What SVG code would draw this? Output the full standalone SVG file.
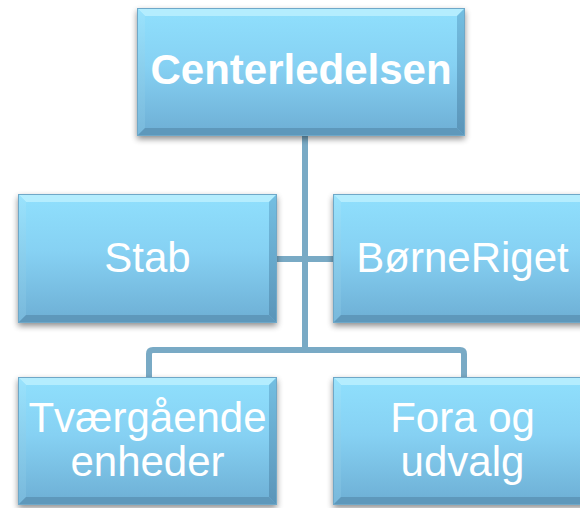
<svg xmlns="http://www.w3.org/2000/svg" width="580" height="508" viewBox="0 0 580 508">
  <defs>
    <linearGradient id="face" x1="0" y1="0" x2="0" y2="1">
      <stop offset="0" stop-color="#90E0FD"/>
      <stop offset="0.45" stop-color="#86D1F3"/>
      <stop offset="1" stop-color="#6DAED4"/>
    </linearGradient>
    <linearGradient id="bevL" x1="0" y1="0" x2="0" y2="1">
      <stop offset="0" stop-color="#9AE3FD"/>
      <stop offset="1" stop-color="#78B8DB"/>
    </linearGradient>
    <linearGradient id="bevR" x1="0" y1="0" x2="0" y2="1">
      <stop offset="0" stop-color="#74BFE2"/>
      <stop offset="1" stop-color="#5A94B8"/>
    </linearGradient>
    <filter id="shadow" x="-10%" y="-10%" width="120%" height="130%">
      <feGaussianBlur in="SourceAlpha" stdDeviation="3"/>
      <feOffset dx="0" dy="3" result="b"/>
      <feComponentTransfer><feFuncA type="linear" slope="0.45"/></feComponentTransfer>
    </filter>
  </defs>
  <style>
    .sh { fill: #000; filter: url(#shadow); }
    .face { fill: url(#face); }
    .bt { fill: #B4EDFE; }
    .bl { fill: url(#bevL); }
    .br { fill: url(#bevR); }
    .bb { fill: #5E98BB; }
    .edge { fill: none; stroke: #6FA8C8; stroke-width: 1; }
    .conn { fill: none; stroke: #79AAC5; stroke-width: 6; }
    .t { fill: #FFFFFF; font-family: "Liberation Sans", Arial, sans-serif; font-size: 42px; text-anchor: middle; }
    .tb { font-weight: bold; }
  </style>

  <g id="connectors">
    <path class="conn" d="M305,135 V350"/>
    <path class="conn" d="M277,259 H333"/>
    <path class="conn" d="M149,377 V354 Q149,350 153,350 H460 Q464,350 464,354 V377"/>
  </g>

  <g id="node-centerledelsen">
    <rect class="sh" x="137" y="8" width="328" height="128"/>
    <rect class="face" x="137" y="8" width="328" height="128"/>
    <polygon class="bt" points="137,8 465,8 457,16 145,16"/>
    <polygon class="bl" points="137,8 145,16 145,128 137,136"/>
    <polygon class="br" points="465,8 465,136 457,128 457,16"/>
    <polygon class="bb" points="137,136 145,128 457,128 465,136"/>
    <rect class="edge" x="137.5" y="8.5" width="327" height="127"/>
    <text class="t tb" x="301" y="84">Centerledelsen</text>
  </g>

  <g id="node-stab">
    <rect class="sh" x="18" y="194" width="259" height="129"/>
    <rect class="face" x="18" y="194" width="259" height="129"/>
    <polygon class="bt" points="18,194 277,194 269,202 26,202"/>
    <polygon class="bl" points="18,194 26,202 26,315 18,323"/>
    <polygon class="br" points="277,194 277,323 269,315 269,202"/>
    <polygon class="bb" points="18,323 26,315 269,315 277,323"/>
    <rect class="edge" x="18.5" y="194.5" width="258" height="128"/>
    <text class="t" x="147.5" y="272">Stab</text>
  </g>

  <g id="node-borneriget">
    <rect class="sh" x="333" y="194" width="259" height="129"/>
    <rect class="face" x="333" y="194" width="259" height="129"/>
    <polygon class="bt" points="333,194 592,194 584,202 341,202"/>
    <polygon class="bl" points="333,194 341,202 341,315 333,323"/>
    <polygon class="br" points="592,194 592,323 584,315 584,202"/>
    <polygon class="bb" points="333,323 341,315 584,315 592,323"/>
    <rect class="edge" x="333.5" y="194.5" width="258" height="128"/>
    <text class="t" x="462.5" y="272">BørneRiget</text>
  </g>

  <g id="node-tvaergaaende">
    <rect class="sh" x="18" y="377" width="259" height="128"/>
    <rect class="face" x="18" y="377" width="259" height="128"/>
    <polygon class="bt" points="18,377 277,377 269,385 26,385"/>
    <polygon class="bl" points="18,377 26,385 26,497 18,505"/>
    <polygon class="br" points="277,377 277,505 269,497 269,385"/>
    <polygon class="bb" points="18,505 26,497 269,497 277,505"/>
    <rect class="edge" x="18.5" y="377.5" width="258" height="127"/>
    <text class="t" x="147.5" y="432">Tværgående</text>
    <text class="t" x="147.5" y="476">enheder</text>
  </g>

  <g id="node-fora">
    <rect class="sh" x="333" y="377" width="259" height="128"/>
    <rect class="face" x="333" y="377" width="259" height="128"/>
    <polygon class="bt" points="333,377 592,377 584,385 341,385"/>
    <polygon class="bl" points="333,377 341,385 341,497 333,505"/>
    <polygon class="br" points="592,377 592,505 584,497 584,385"/>
    <polygon class="bb" points="333,505 341,497 584,497 592,505"/>
    <rect class="edge" x="333.5" y="377.5" width="258" height="127"/>
    <text class="t" x="462.5" y="432">Fora og</text>
    <text class="t" x="462.5" y="476">udvalg</text>
  </g>
</svg>
